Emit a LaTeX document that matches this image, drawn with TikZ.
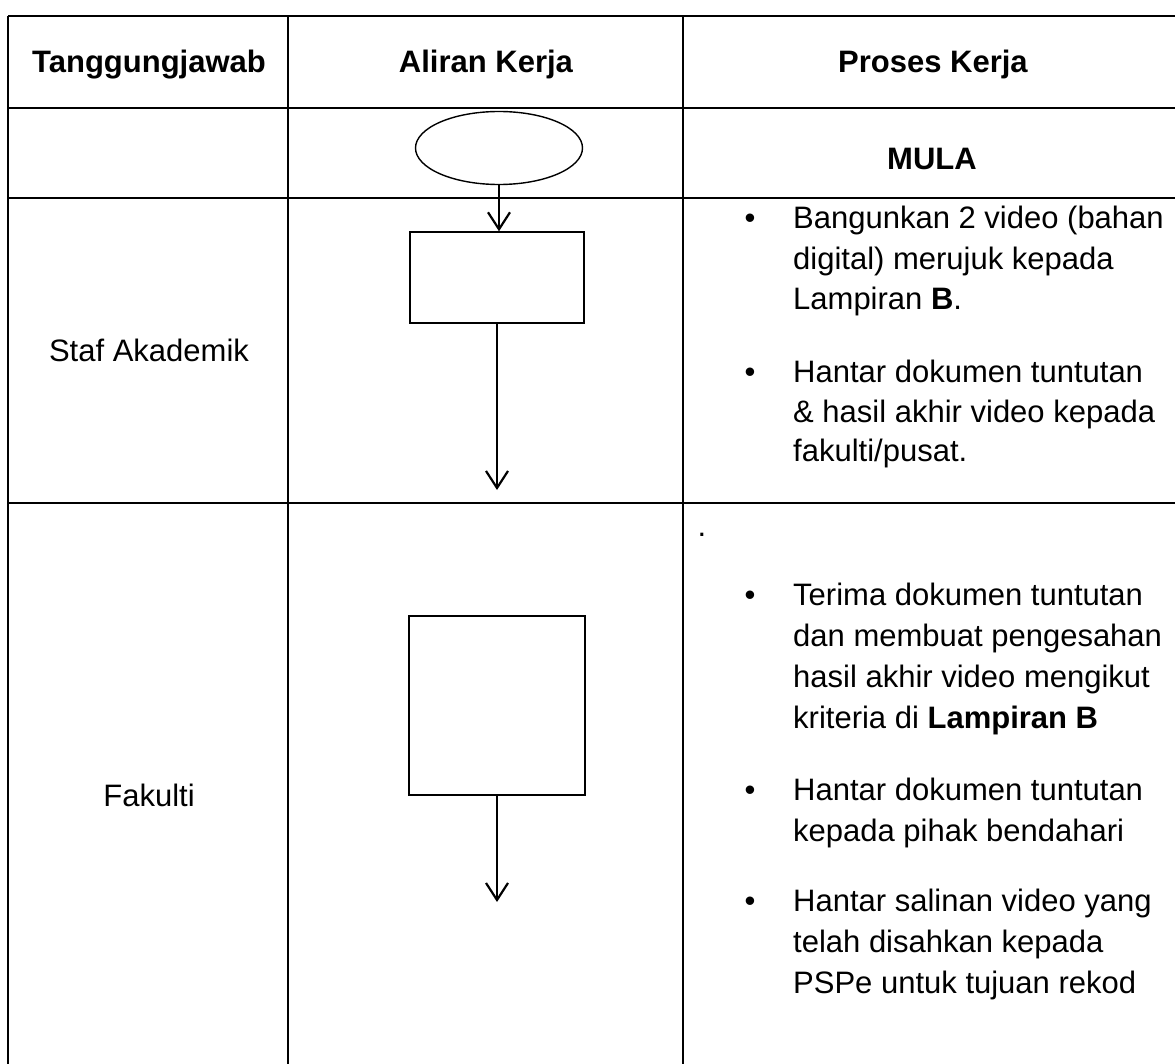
\documentclass[tikz,border=0pt]{standalone}
\usepackage{fontspec}
\setmainfont{Liberation Sans}
\usetikzlibrary{shapes.geometric,arrows.meta}
\tikzset{
  tbl/.style={line width=1.7pt},
  shp/.style={draw,line width=1.4pt,inner sep=0pt},
  flow/.style={line width=2.2pt,-{Straight Barb[length=17pt,width=22pt,line width=2.2pt]}},
  hdr/.style={font=\fontsize{31}{38}\selectfont\bfseries,inner sep=0pt,anchor=base},
  lbl/.style={font=\fontsize{31}{38}\selectfont,inner sep=0pt,anchor=base},
  txt/.style={font=\fontsize{31}{38}\selectfont,inner sep=0pt,anchor=base west},
  bul/.style={font=\fontsize{31}{38}\selectfont,inner sep=0pt,anchor=base}
}
\begin{document}
\begin{tikzpicture}[x=1pt,y=-1pt]
\useasboundingbox (0,0) rectangle (1175,1064);
% table
\draw[tbl] (8,16) -- (1190,16);
\draw[tbl] (8,108) -- (1190,108);
\draw[tbl] (8,198) -- (1190,198);
\draw[tbl] (8,503) -- (1190,503);
\draw[tbl] (8,16) -- (8,1090);
\draw[tbl] (288,16) -- (288,1090);
\draw[tbl] (683,16) -- (683,1090);
% headers
\node[hdr] (h1) at (149,73) {Tanggungjawab};
\node[hdr] (h2) at (486,73) {Aliran Kerja};
\node[hdr] (h3) at (933,73) {Proses Kerja};
\node[hdr] (mula) at (932,170) {MULA};
% responsibilities
\node[lbl] (r1) at (149,362) {Staf Akademik};
\node[lbl] (r2) at (149,806) {Fakulti};
% flow
\node[shp,ellipse,minimum width=167pt,minimum height=73pt] (start) at (499,148) {};
\node[shp,rectangle,minimum width=174pt,minimum height=91pt] (b1) at (497,277.5) {};
\node[shp,rectangle,minimum width=176pt,minimum height=179pt] (b2) at (497,705.5) {};
\coordinate (e1) at (497,490);
\coordinate (e2) at (497,902);
\draw[flow] (start.south) -- (start.south |- b1.north);
\draw[flow] (b1.south) -- (e1);
\draw[flow] (b2.south) -- (e2);
% stray dot
\node[bul] (dot) at (702,536) {.};
% Staf Akademik process
\node[bul] (s1b) at (750,229) {•};
\node[txt] (s1a) at (793,229) {Bangunkan 2 video (bahan};
\node[txt] (s1c) at (793,270) {digital) merujuk kepada};
\node[txt] (s1d) at (793,310) {Lampiran \textbf{B}.};
\node[bul] (s2b) at (750,383) {•};
\node[txt] (s2a) at (793,383) {Hantar dokumen tuntutan};
\node[txt] (s2c) at (793,422) {\& hasil akhir video kepada};
\node[txt] (s2d) at (793,461) {fakulti/pusat.};
% Fakulti process
\node[bul] (f1b) at (750,605) {•};
\node[txt] (f1a) at (793,605) {Terima dokumen tuntutan};
\node[txt] (f1c) at (793,646) {dan membuat pengesahan};
\node[txt] (f1d) at (793,687) {hasil akhir video mengikut};
\node[txt] (f1e) at (793,728) {kriteria di \textbf{Lampiran B}};
\node[bul] (f2b) at (750,800) {•};
\node[txt] (f2a) at (793,800) {Hantar dokumen tuntutan};
\node[txt] (f2c) at (793,841) {kepada pihak bendahari};
\node[bul] (f3b) at (750,911) {•};
\node[txt] (f3a) at (793,911) {Hantar salinan video yang};
\node[txt] (f3c) at (793,952) {telah disahkan kepada};
\node[txt] (f3d) at (793,993) {PSPe untuk tujuan rekod};
\end{tikzpicture}
\end{document}
